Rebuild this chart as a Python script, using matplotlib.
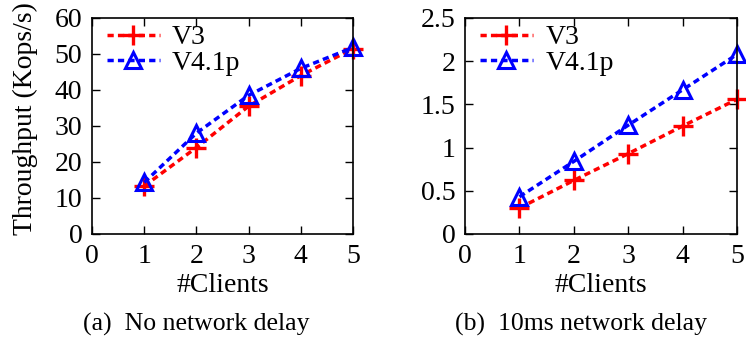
import matplotlib.pyplot as plt

clients = [1, 2, 3, 4, 5]

# (a) no network delay, Kops/s
v3_nodelay = [13.3, 24.0, 35.5, 44.0, 51.5]
v41p_nodelay = [14.3, 28.0, 38.5, 46.0, 51.8]

# (b) 10ms network delay, Kops/s
v3_delay = [0.30, 0.62, 0.93, 1.25, 1.56]
v41p_delay = [0.43, 0.84, 1.26, 1.67, 2.08]

plt.rcParams["font.family"] = ["Liberation Serif", "DejaVu Serif"]
plt.rcParams["font.size"] = 20

fig = plt.figure(figsize=(7.46, 3.39), dpi=100)
ax1 = fig.add_axes([0.1233, 0.310, 0.350, 0.637])
ax2 = fig.add_axes([0.6233, 0.310, 0.3650, 0.637])


def draw(ax, v3, v41p, ymax, yticks, yticklabels):
    ax.plot(clients, v3, color="red", linestyle=(0, (1.8, 1.2)), linewidth=2.5,
            marker="+", markersize=14, markeredgewidth=2.4, label="V3",
            clip_on=False)
    ax.plot(clients, v41p, color="blue", linestyle=(0, (1.8, 1.2)), linewidth=2.5,
            marker="^", markersize=12, markeredgewidth=2.2, markerfacecolor="none",
            label="V4.1p", clip_on=False)
    ax.set_xlim(0, 5)
    ax.set_ylim(0, ymax)
    ax.set_xticks(range(6))
    ax.set_yticks(yticks)
    ax.set_yticklabels(yticklabels)
    ax.tick_params(direction="in", top=True, right=True, length=6, width=1,
                   pad=7)
    for s in ax.spines.values():
        s.set_linewidth(1.2)
    ax.set_xlabel("#Clients", labelpad=3)
    ax.legend(loc="upper left", bbox_to_anchor=(0.03, 1.0), frameon=False,
              handlelength=1.9, handletextpad=0.45, labelspacing=0.0,
              borderaxespad=0.15, borderpad=0.1, fontsize=20)


draw(ax1, v3_nodelay, v41p_nodelay, 60, range(0, 61, 10),
     [str(v) for v in range(0, 61, 10)])
ax1.set_ylabel("Throughput (Kops/s)")
ax1.yaxis.set_label_coords(-0.207, 0.535)

draw(ax2, v3_delay, v41p_delay, 2.5, [0, 0.5, 1, 1.5, 2, 2.5],
     ["0", "0.5", "1", "1.5", "2", "2.5"])

fig.text(0.263, 0.044, "(a)  No network delay", ha="center", va="center",
         fontsize=18.5)
fig.text(0.779, 0.044, "(b)  10ms network delay", ha="center", va="center",
         fontsize=18.5)

fig.savefig("out.png", dpi=100)
